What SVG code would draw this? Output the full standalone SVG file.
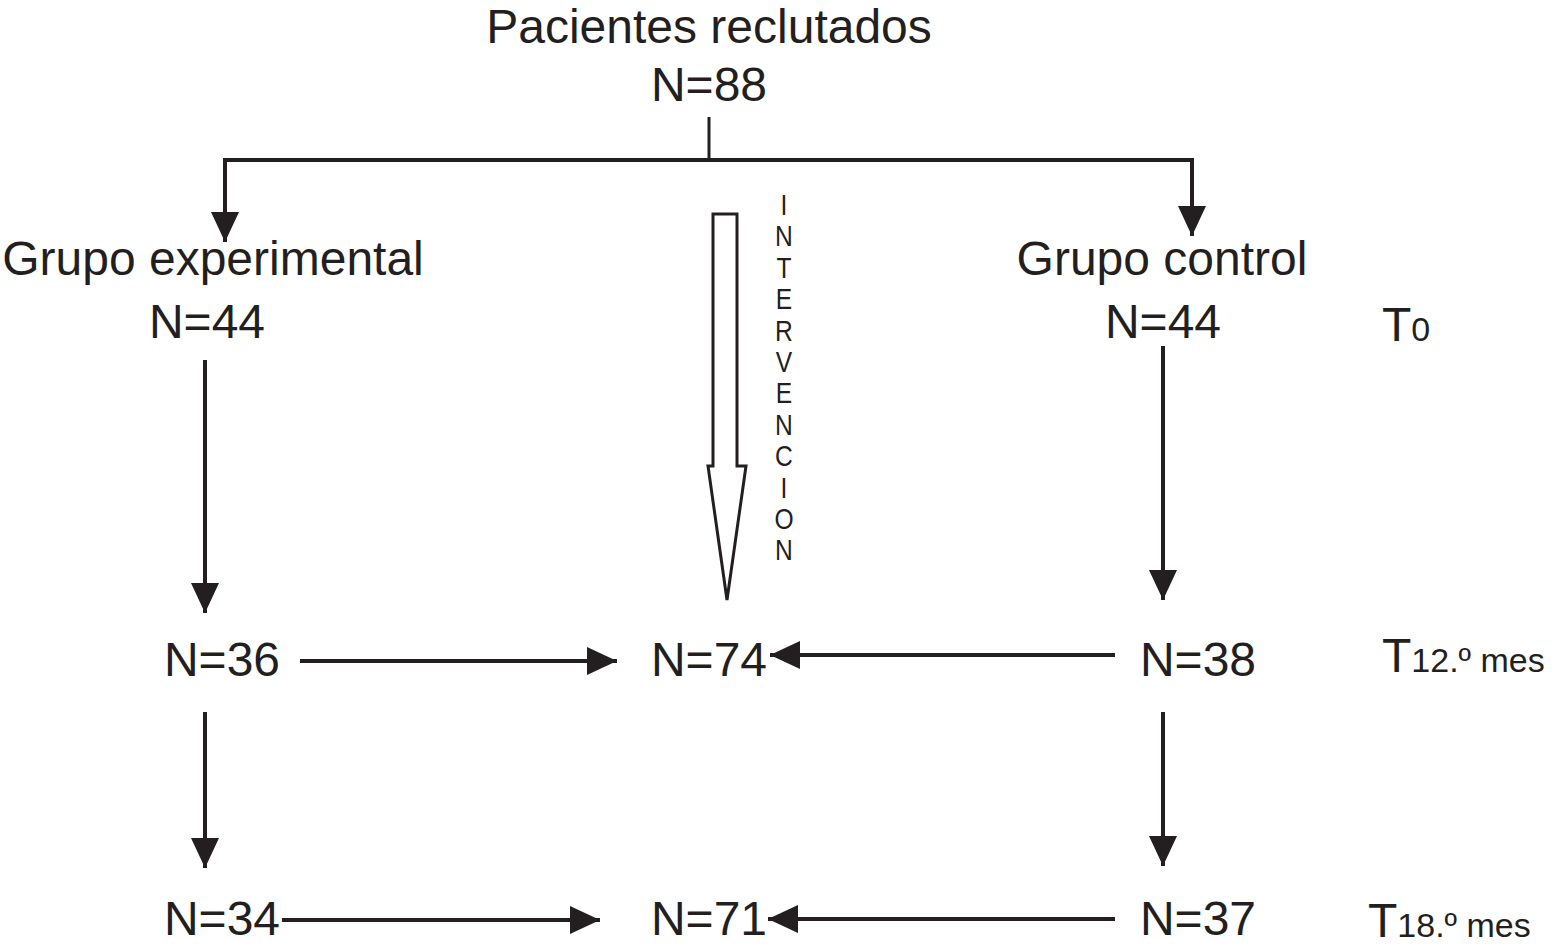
<svg xmlns="http://www.w3.org/2000/svg" width="1558" height="949" viewBox="0 0 1558 949">
<defs>
<style>
.t{font-family:"Liberation Sans",Arial,Helvetica,sans-serif;font-size:48px;fill:#231f20;text-anchor:middle}
.tl{font-family:"Liberation Sans",Arial,Helvetica,sans-serif;fill:#231f20}
.v{font-family:"Liberation Sans",Arial,Helvetica,sans-serif;font-size:30px;fill:#231f20;text-anchor:middle}
.c{stroke:#231f20;stroke-width:4;fill:none}
</style>
<marker id="ah" markerUnits="userSpaceOnUse" markerWidth="30" markerHeight="28" refX="30" refY="14" orient="auto" viewBox="0 0 30 28">
<path d="M0,0 L30,14 L0,28 Z" fill="#231f20"/>
</marker>
</defs>
<rect width="1558" height="949" fill="#ffffff"/>
<g id="n-reclutados"><text class="t" x="709" y="43">Pacientes reclutados</text><text class="t" x="709" y="101">N=88</text></g>
<g id="n-experimental"><text class="t" x="213" y="275">Grupo experimental</text><text class="t" x="207" y="338">N=44</text></g>
<g id="n-control"><text class="t" x="1162" y="275">Grupo control</text><text class="t" x="1163" y="338">N=44</text></g>
<g id="n-36"><text class="t" x="222" y="676">N=36</text></g>
<g id="n-74"><text class="t" x="709" y="676">N=74</text></g>
<g id="n-38"><text class="t" x="1198" y="676">N=38</text></g>
<g id="n-34"><text class="t" x="222" y="935">N=34</text></g>
<g id="n-71"><text class="t" x="709" y="935">N=71</text></g>
<g id="n-37"><text class="t" x="1198" y="935">N=37</text></g>
<g id="t0"><text class="tl" x="1382" y="341" font-size="48">T<tspan font-size="34">0</tspan></text></g>
<g id="t12"><text class="tl" x="1382" y="672" font-size="48">T<tspan font-size="34">12.º mes</tspan></text></g>
<g id="t18"><text class="tl" x="1368" y="937" font-size="48">T<tspan font-size="34">18.º mes</tspan></text></g>
<g id="intervencion">
<path d="M713,214 L737,214 L737,466 L746,466 L727,600 L708,466 L713,466 Z" fill="#ffffff" stroke="#231f20" stroke-width="3" stroke-linejoin="miter"/>
<g transform="translate(784,0) scale(0.82,1)">
<text class="v" x="0" y="215">I</text>
<text class="v" x="0" y="246">N</text>
<text class="v" x="0" y="278">T</text>
<text class="v" x="0" y="309">E</text>
<text class="v" x="0" y="341">R</text>
<text class="v" x="0" y="372">V</text>
<text class="v" x="0" y="403">E</text>
<text class="v" x="0" y="435">N</text>
<text class="v" x="0" y="466">C</text>
<text class="v" x="0" y="498">I</text>
<text class="v" x="0" y="529">O</text>
<text class="v" x="0" y="560">N</text>
</g>
</g>
<g id="connectors">
<line x1="709" y1="117" x2="709" y2="160" stroke="#231f20" stroke-width="3"/>
<line class="c" x1="223" y1="160" x2="1194" y2="160"/>
<line class="c" x1="225" y1="158" x2="225" y2="242" marker-end="url(#ah)"/>
<line class="c" x1="1192" y1="158" x2="1192" y2="236" marker-end="url(#ah)"/>
<line class="c" x1="205" y1="360" x2="205" y2="613" marker-end="url(#ah)"/>
<line class="c" x1="205" y1="712" x2="205" y2="868" marker-end="url(#ah)"/>
<line class="c" x1="1163" y1="346" x2="1163" y2="600" marker-end="url(#ah)"/>
<line class="c" x1="1163" y1="712" x2="1163" y2="866" marker-end="url(#ah)"/>
<line class="c" x1="300" y1="661" x2="617" y2="661" marker-end="url(#ah)"/>
<line class="c" x1="1115" y1="655" x2="770" y2="655" marker-end="url(#ah)"/>
<line class="c" x1="282" y1="920" x2="600" y2="920" marker-end="url(#ah)"/>
<line class="c" x1="1115" y1="919" x2="768" y2="919" marker-end="url(#ah)"/>
</g>
</svg>
